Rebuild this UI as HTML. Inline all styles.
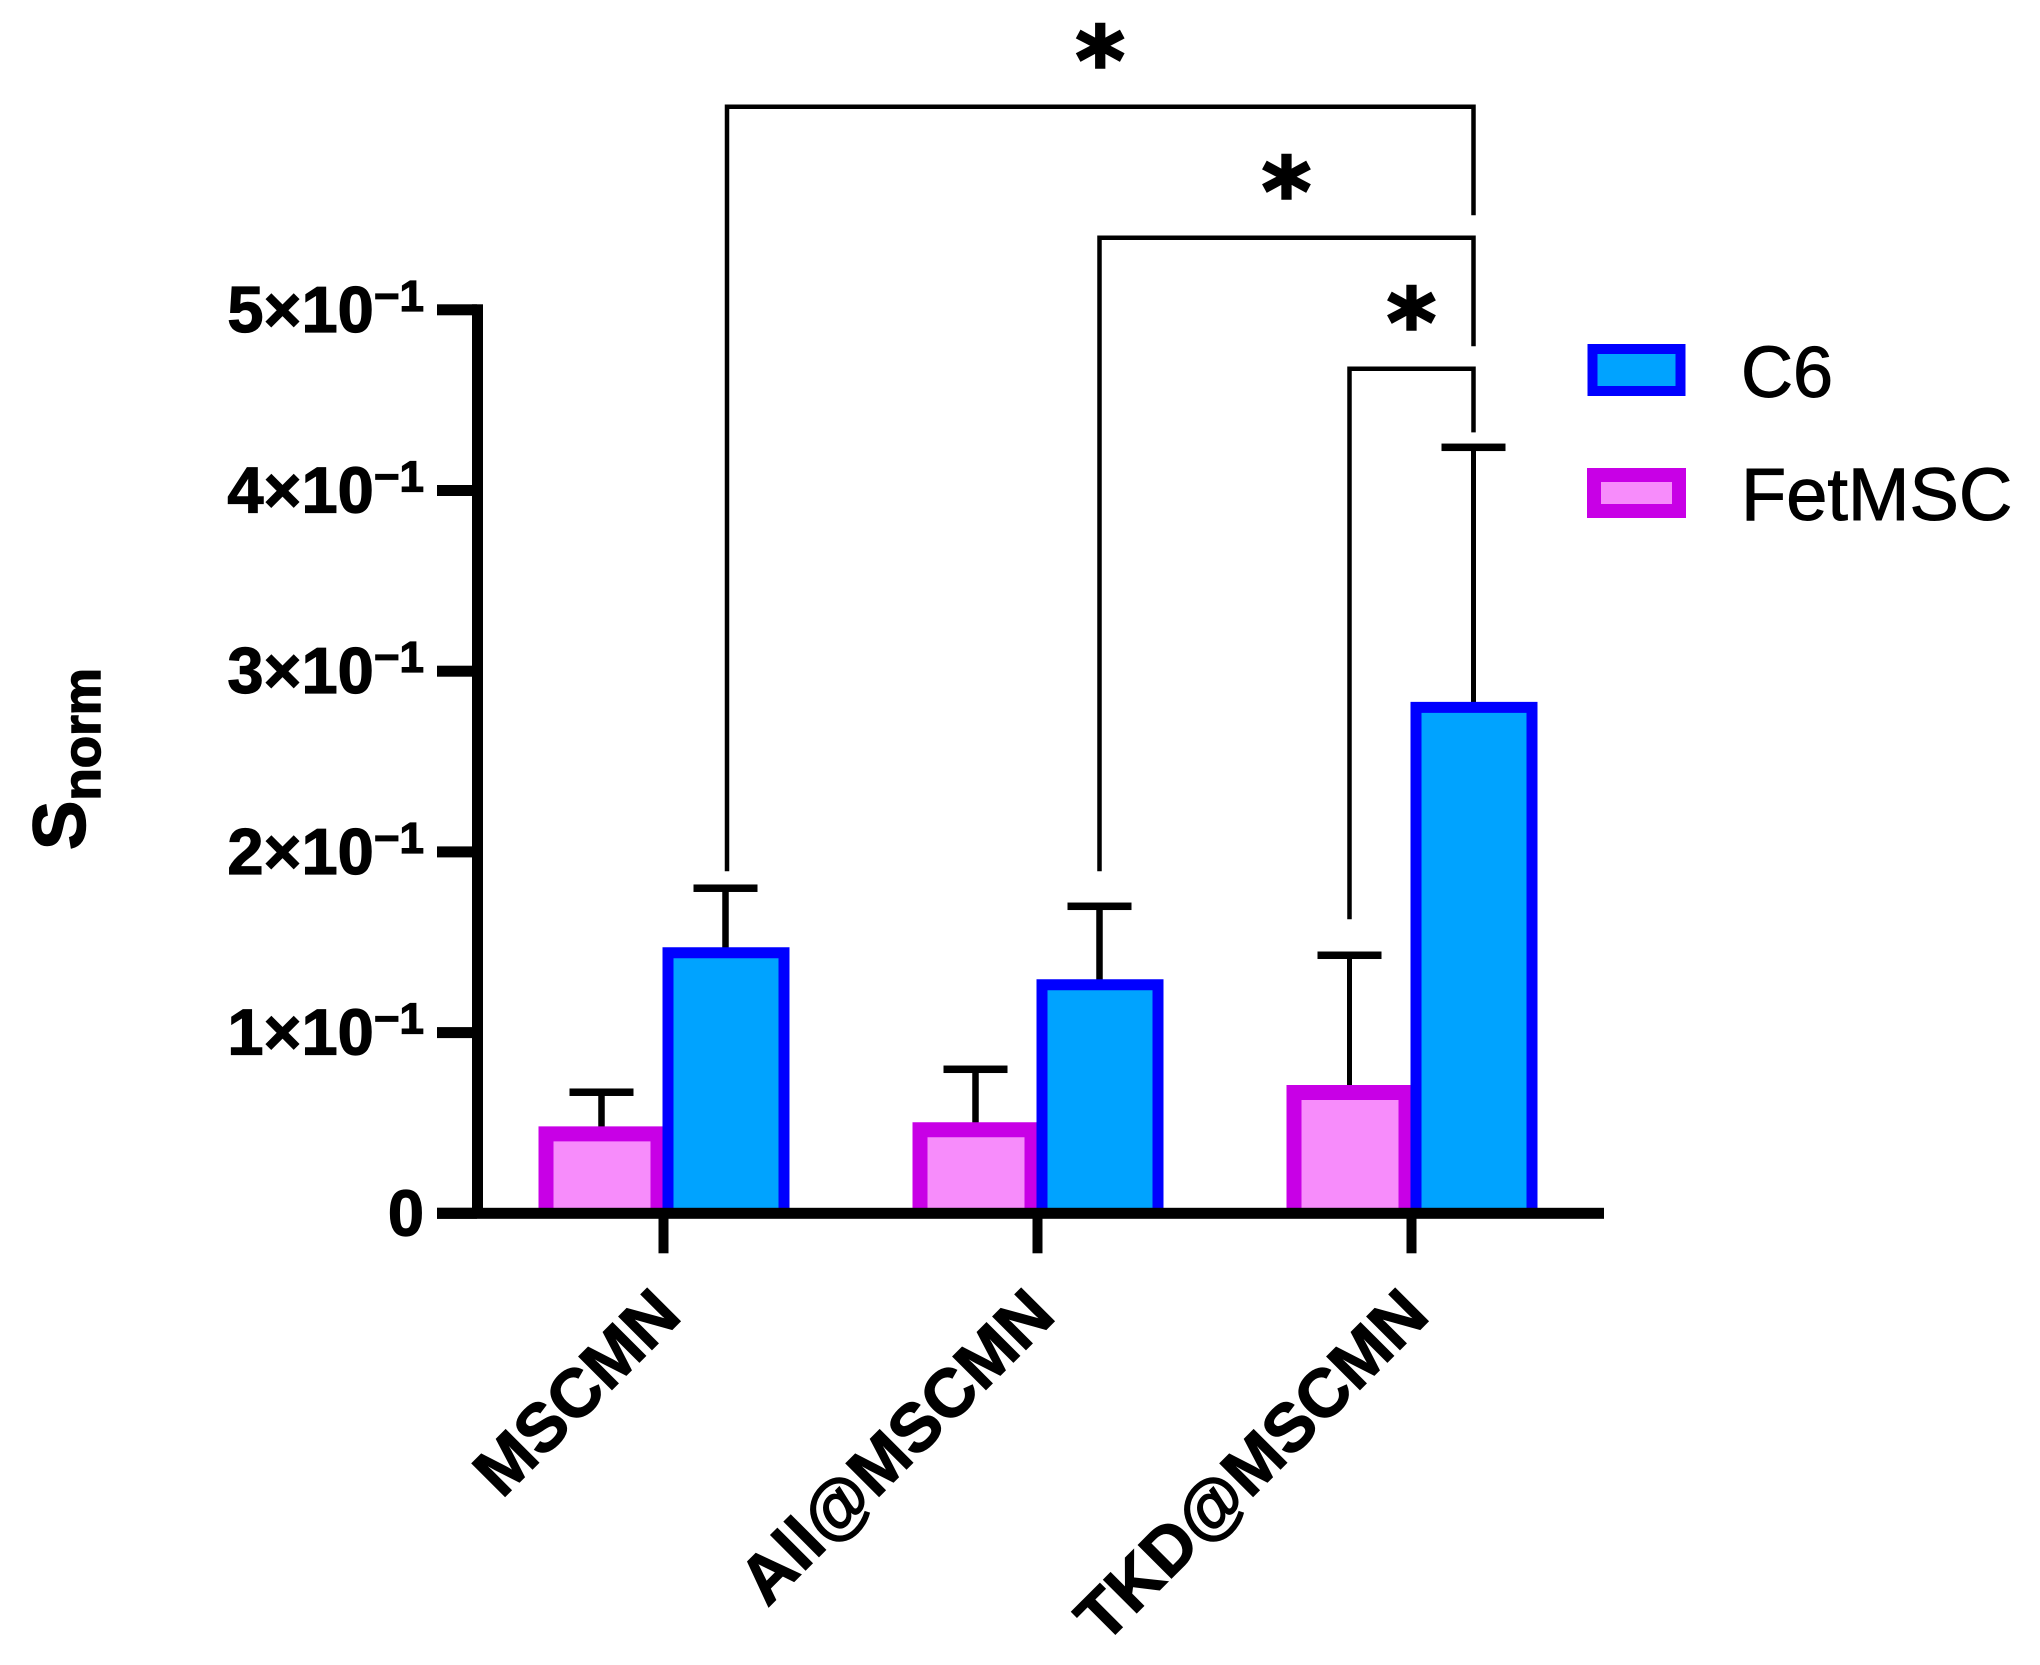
<!DOCTYPE html>
<html lang="en">
<head>
<meta charset="utf-8">
<title>Snorm bar chart</title>
<style>
html,body{margin:0;padding:0;background:#fff;}
svg{display:block;}
text{font-family:"Liberation Sans",Arial,sans-serif;fill:#000;}
</style>
</head>
<body>
<svg id="chart" xmlns="http://www.w3.org/2000/svg" width="2040" height="1665" viewBox="0 0 2040 1665">
  <rect x="0" y="0" width="2040" height="1665" fill="#fff"/>
  <text transform="translate(85 850) rotate(-90)" font-weight="700" font-size="74" stroke="#000" stroke-width="1.5">S<tspan font-size="53" dy="15">norm</tspan></text>
  <g>
    <g>
      <rect x="1592.5" y="349" width="88" height="42" fill="#00A3FF" stroke="#0000FF" stroke-width="10"/>
      <text x="1741" y="397" font-size="72" stroke="#000" stroke-width="1">C6</text>
    </g>
    <g>
      <rect x="1594" y="475" width="85" height="36" fill="#F78CFB" stroke="#C800E6" stroke-width="14"/>
      <text x="1741" y="520" font-size="74" stroke="#000" stroke-width="1">FetMSC</text>
    </g>
  </g>
  <g id="bars"></g>
  <g id="axes"></g>
  <g id="sig"></g>
</svg>
<script>
const categories = ['MSCMN', 'All@MSCMN', 'TKD@MSCMN'];
const fetMscValues = [0.0481, 0.0504, 0.0710];
const fetMscUpper = [0.0670, 0.0797, 0.1428];
const c6Values = [0.1472, 0.1295, 0.2830];
const c6Upper = [0.1799, 0.1699, 0.4239];
const yTickValues = [0, 0.1, 0.2, 0.3, 0.4, 0.5];
const yTickLabels = ['0', '1×10', '2×10', '3×10', '4×10', '5×10'];
const yTickExponents = ['', '−1', '−1', '−1', '−1', '−1'];
const bracketFromGroup = [0, 1, 2];
const bracketTop = [0.6124, 0.5399, 0.4674];
const bracketLeftEnd = [0.1893, 0.1893, 0.1627];
const bracketRightEnd = [0.5523, 0.4798, 0.4322];
const bracketMarks = ['*', '*', '*'];

const NS = 'http://www.w3.org/2000/svg';
const yAxisFn = v => 1213.3 - v * 1807;
const xGroup = i => 663.5 + i * 374;
const xFet = i => xGroup(i) - 62;
const xC6 = i => xGroup(i) + 62;

function make(tag, attrs, parent) {
  const n = document.createElementNS(NS, tag);
  for (const k in attrs) n.setAttribute(k, attrs[k]);
  parent.appendChild(n);
  return n;
}

const barsG = document.getElementById('bars');
const axesG = document.getElementById('axes');
const sigG = document.getElementById('sig');

function drawError(cx, top, base, sw, parent, label) {
  const stem = make('rect', {x: cx - sw / 2, y: yAxisFn(top), width: sw, height: yAxisFn(base) - yAxisFn(top) + 4, fill: '#000'}, parent);
  
  
  const cap = make('rect', {x: cx - 32, y: yAxisFn(top) - 3.75, width: 64, height: 7.5, fill: '#000'}, parent);
  
  
}

function drawBar(cx, value, bw, fill, stroke, parent, label) {
  const top = yAxisFn(value);
  const base = yAxisFn(0);
  const left = cx - 63 + bw / 2;
  const right = cx + 64 - bw / 2;
  const d = 'M' + left + ' ' + base + 'V' + (top + bw / 2) + 'H' + right + 'V' + base;
  const bar = make('path', {d: d, fill: fill, stroke: stroke, 'stroke-width': bw}, parent);
  
  
}

categories.forEach((c, i) => {
  drawError(xFet(i), fetMscUpper[i], fetMscValues[i], i === 2 ? 5 : 6.5, barsG, 'fetmsc-' + i);
  drawBar(xFet(i), fetMscValues[i], 15, '#F78CFB', '#C800E6', barsG, 'bar-fetmsc-' + i);
});
categories.forEach((c, i) => {
  drawError(xC6(i), c6Upper[i], c6Values[i], i === 2 ? 5 : 6.5, barsG, 'c6-' + i);
  drawBar(xC6(i), c6Values[i], 11, '#00A3FF', '#0000FF', barsG, 'bar-c6-' + i);
});

const yLine = make('rect', {x: 472, y: yAxisFn(0.5) - 5.5, width: 11, height: yAxisFn(0) - yAxisFn(0.5) + 5.5, fill: '#000'}, axesG);


const xLine = make('rect', {x: 437, y: yAxisFn(0) - 5.5, width: 1167, height: 11, fill: '#000'}, axesG);



yTickValues.forEach((v, i) => {
  const t = make('rect', {x: 437, y: yAxisFn(v) - 5.5, width: 40, height: 11, fill: '#000'}, axesG);
  
  
  const lab = make('text', {x: 424, y: yAxisFn(v) + 22, 'text-anchor': 'end', 'font-weight': 700, 'font-size': 65, stroke: '#000', 'stroke-width': 1.2}, axesG);
  
  
  lab.appendChild(document.createTextNode(yTickLabels[i]));
  if (yTickExponents[i]) {
    const sup = make('tspan', {'font-size': 44, dy: -21}, lab);
    sup.textContent = yTickExponents[i];
  }
});

categories.forEach((c, i) => {
  const t = make('rect', {x: xGroup(i) - 5, y: yAxisFn(0), width: 10, height: 40, fill: '#000'}, axesG);
  
  
  const ax = xGroup(i) + 20;
  const ay = 1318;
  const lab = make('text', {transform: 'translate(' + ax + ' ' + ay + ') rotate(-45)', 'text-anchor': 'end', 'font-weight': 700, 'font-size': 68, stroke: '#000', 'stroke-width': 1.2}, axesG);
  
  
  lab.textContent = c;
});

bracketFromGroup.forEach((g, i) => {
  const left = g === 2 ? xFet(g) : xC6(g) + (g === 1 ? 0 : 1.5);
  const right = xC6(2);
  const d = 'M' + left + ' ' + yAxisFn(bracketLeftEnd[i]) + 'V' + yAxisFn(bracketTop[i]) + 'H' + right + 'V' + yAxisFn(bracketRightEnd[i]);
  const p = make('path', {d: d, fill: 'none', stroke: '#000', 'stroke-width': 4.5}, sigG);
  
  
  const star = make('text', {x: (left + right) / 2, y: yAxisFn(bracketTop[i]) - 13, 'text-anchor': 'middle', 'font-weight': 700, 'font-size': 94, stroke: '#000', 'stroke-width': 2.5, style: 'font-family:"DejaVu Sans",sans-serif'}, sigG);
  
  
  star.textContent = bracketMarks[i];
});
</script>
</body>
</html>
